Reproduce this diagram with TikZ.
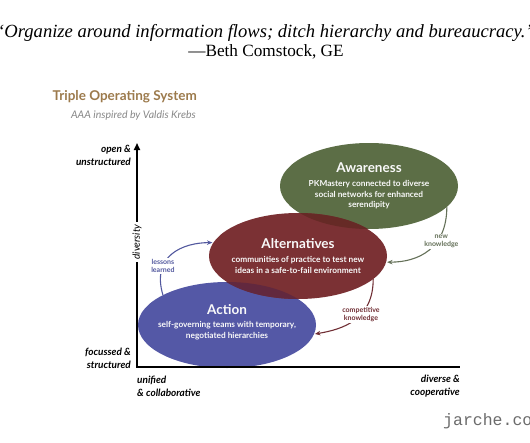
\documentclass[tikz,border=0pt]{standalone}
\usepackage{fontspec}
\setmainfont{Liberation Serif}
\newfontfamily\sansfam{Lato}
\newfontfamily\monofam{Liberation Mono}
\usetikzlibrary{arrows.meta, shapes.geometric, positioning}

\definecolor{titlegold}{RGB}{156,122,76}
\definecolor{subgray}{RGB}{135,135,135}
\definecolor{awarecol}{RGB}{92,110,70}
\definecolor{altcol}{RGB}{123,49,52}
\definecolor{actcol}{RGB}{84,88,166}
\definecolor{awarealt}{RGB}{102,42,38}
\definecolor{altact}{RGB}{98,40,62}
\definecolor{newcol}{RGB}{100,112,88}
\definecolor{compcol}{RGB}{112,46,52}
\definecolor{lesscol}{RGB}{82,88,158}

\begin{document}
\begin{tikzpicture}[x=1pt, y=-1pt,
  zone/.style    = {ellipse, fill=#1, minimum width=178pt, minimum height=86pt,
                    inner sep=0pt, outer sep=0pt},
  zonetxt/.style = {text=white!95!gray, align=center,
                    font=\sansfam\bfseries\fontsize{8.3}{10.7}\selectfont},
  flow/.style    = {draw=#1, line width=1.1pt, -{Stealth[length=5.5pt, width=4.5pt]},
                    shorten >=1pt},
  flowtag/.style = {fill=white, inner sep=1pt, align=center, text=#1,
                    font=\sansfam\bfseries\fontsize{7}{8.2}\selectfont},
  axislbl/.style = {align=#1, inner sep=0pt,
                    font=\sansfam\bfseries\itshape\fontsize{10}{13}\selectfont},
]
\useasboundingbox (0,0) rectangle (530,442);
\clip (0,0) rectangle (530,442);

%% quote
\node (quote) at (265,33)
  {\itshape\fontsize{18.6}{20}\selectfont “Organize around information flows; ditch hierarchy and bureaucracy.”};
\node (who) at (266,52) {\fontsize{17.2}{20}\selectfont —Beth Comstock, GE};

%% title block
\node[anchor=east, inner sep=0pt, text=titlegold,
      font=\sansfam\bfseries\fontsize{13.5}{15}\selectfont] (title) at (197,97)
  {Triple Operating System};
\node[anchor=east, inner sep=0pt, text=subgray,
      font=\sansfam\itshape\fontsize{10.5}{12}\selectfont] (subtitle) at (196,116)
  {AAA inspired by Valdis Krebs};

%% the three zones
\node[zone=awarecol] (aware) at (369,186) {};
\node[zone=actcol]   (act)   at (227,325) {};
\node[zone=altcol]   (alt)   at (298,256) {};

%% darker overlaps
\begin{scope}
  \clip (aware.center) ellipse [x radius=89pt, y radius=43pt];
  \fill[awarealt] (alt.center) ellipse [x radius=90pt, y radius=43pt];
\end{scope}
\begin{scope}
  \clip (act.center) ellipse [x radius=89pt, y radius=43pt];
  \fill[altact] (alt.center) ellipse [x radius=90pt, y radius=43pt];
\end{scope}

\node[zonetxt] (awaretxt) at (aware)
  {{\fontsize{13.5}{16}\selectfont Awareness}\\[3pt]
   PKMastery connected to diverse\\social networks for enhanced\\serendipity};
\node[zonetxt] (alttxt) at (alt)
  {{\fontsize{13.5}{16}\selectfont Alternatives}\\[3pt]
   communities of practice to test new\\ideas in a safe-to-fail environment};
\node[zonetxt, yshift=3pt] (acttxt) at (act)
  {{\fontsize{13.5}{16}\selectfont Action}\\[3pt]
   self-governing teams with temporary,\\negotiated hierarchies};

%% knowledge flows
\draw[flow=newcol] (aware.-15) .. controls +(0,42) and +(32,0) .. (alt.-4)
  node[pos=0.35, flowtag=newcol, xshift=4pt] (newlbl) {new\\knowledge};
\draw[flow=compcol] (alt.-17) .. controls +(0,40) and +(30,-5) .. (act.-6)
  node[pos=0.4, flowtag=compcol] (complbl) {competitive\\knowledge};
\draw[flow=lesscol] (act.155) .. controls +(-12,-40) and +(-30,0) .. (alt.171)
  node[pos=0.3, flowtag=lesscol] (lesslbl) {lessons\\learned};

%% axes
\coordinate (origin) at (137,367);
\coordinate (ytop)   at (137,143);
\coordinate (xend)   at (460,367);
\draw[line width=1.6pt, {Triangle[length=7pt, width=6pt]}-] (ytop) -- (origin) -- (xend);
\node[rotate=90, fill=white, inner sep=2pt,
      font=\sansfam\itshape\fontsize{10}{11}\selectfont] (divlbl) at (137,242) {diversity};

\node[axislbl=right, anchor=east] (topy) at (131,155.5) {open \&\\unstructured};
\node[axislbl=right, anchor=east] (boty) at (131,358.5) {focussed \&\\structured};
\node[axislbl=left, anchor=west]  (lftx) at (137,386.5) {unified\\\& collaborative};
\node[axislbl=right, anchor=east] (rgtx) at (460,386.5) {diverse \&\\cooperative};

%% site mark
\node[anchor=west, inner sep=0pt, text=black!58,
      font=\monofam\fontsize{16.5}{18}\selectfont] (site) at (443,421) {jarche.co};

\end{tikzpicture}
\end{document}
